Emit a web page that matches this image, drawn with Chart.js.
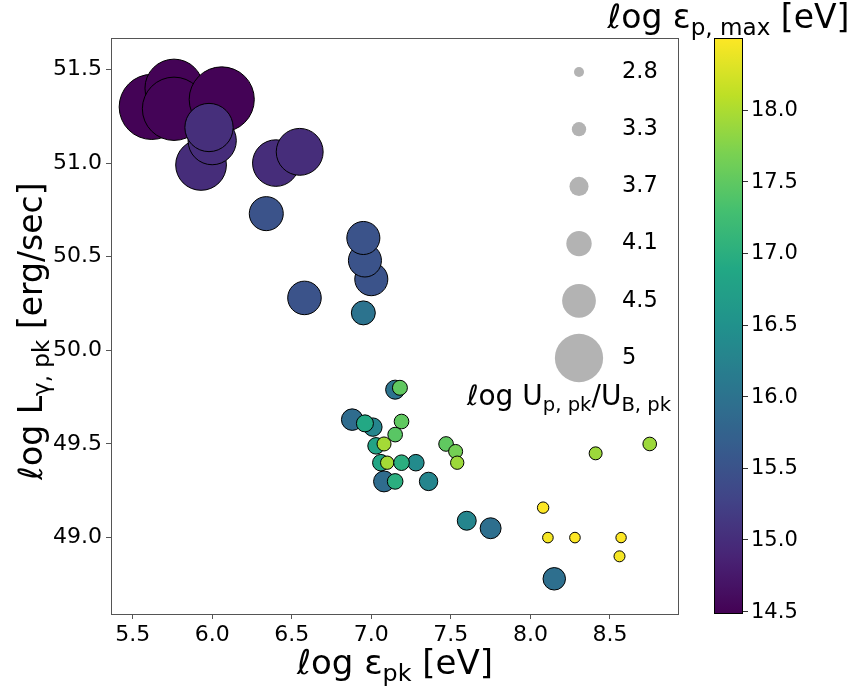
<!DOCTYPE html>
<html>
<head>
<meta charset="utf-8">
<script src="https://cdn.jsdelivr.net/npm/chart.js@4"></script>
<style>
  body { margin: 0; background: #fff; }
  canvas { display: block; }
</style>
</head>
<body>
<canvas id="chart" width="855" height="688"></canvas>
<script>
// ---- data ----
// log eps_pk [eV]
const epk = [5.62, 5.76, 5.76, 6.06, 5.93, 6.00, 5.98, 6.40, 6.55,
             6.34, 7.00, 6.96, 6.95, 6.58, 6.95,
             7.15, 7.18, 6.88, 7.01, 6.96, 7.19, 7.15, 7.03, 7.08,
             7.47, 7.53, 7.54, 7.06, 7.10, 7.28, 7.19, 7.08, 7.15, 7.36,
             8.41, 8.75, 7.60, 7.75, 8.08, 8.11, 8.28, 8.57, 8.56, 8.15];
// log L_gamma,pk [erg/sec]
const lgam = [51.30, 51.40, 51.29, 51.34, 50.99, 51.12, 51.19, 51.00, 51.06,
              50.73, 50.38, 50.48, 50.60, 50.28, 50.20,
              49.79, 49.80, 49.63, 49.59, 49.61, 49.62, 49.55, 49.49, 49.50,
              49.50, 49.46, 49.40, 49.40, 49.40, 49.40, 49.40, 49.30, 49.30, 49.30,
              49.45, 49.50, 49.09, 49.05, 49.16, 49.00, 49.00, 49.00, 48.90, 48.78];
// log U_p,pk / U_B,pk  (marker size)
const logU = [5.42, 5.26, 5.38, 5.42, 5.07, 5.00, 5.00, 4.95, 4.96,
              4.51, 4.47, 4.47, 4.47, 4.49, 4.02,
              3.70, 3.36, 3.87, 3.65, 3.54, 3.33, 3.33, 3.50, 3.27,
              3.33, 3.27, 3.20, 3.50, 3.20, 3.50, 3.42, 3.83, 3.42, 3.65,
              3.16, 3.23, 3.69, 3.83, 2.98, 2.88, 2.88, 2.85, 2.93, 3.93];
// log eps_p,max [eV]  (colour)
const logEmax = [14.50, 14.50, 14.52, 14.50, 15.00, 15.00, 15.02, 15.00, 15.00,
                 15.50, 15.50, 15.50, 15.50, 15.50, 16.00,
                 16.00, 17.50, 15.90, 16.30, 16.90, 17.50, 17.45, 16.80, 17.95,
                 17.50, 17.65, 17.90, 16.85, 17.95, 16.40, 17.00, 15.90, 17.00, 16.30,
                 17.90, 17.90, 16.30, 15.95, 18.50, 18.45, 18.50, 18.50, 18.45, 15.95];

const xTicks = [5.5, 6.0, 6.5, 7.0, 7.5, 8.0, 8.5];
const yTicks = [49.0, 49.5, 50.0, 50.5, 51.0, 51.5];
const sizeLegend = [2.8, 3.3, 3.7, 4.1, 4.5, 5];
const cbTicks = [14.5, 15.0, 15.5, 16.0, 16.5, 17.0, 17.5, 18.0];
const cMin = 14.48, cMax = 18.5;

// ---- helpers ----
const viridisStops = ['#440154', '#482475', '#414487', '#355f8d', '#2a788e', '#21918c',
                      '#22a884', '#44bf70', '#7ad151', '#bddf26', '#fde725'];
function hexRgb(h) {
    return [parseInt(h.slice(1, 3), 16), parseInt(h.slice(3, 5), 16), parseInt(h.slice(5, 7), 16)];
}
function viridis(t) {
    t = Math.max(0, Math.min(1, t));
    const f = t * (viridisStops.length - 1);
    const i = Math.min(Math.floor(f), viridisStops.length - 2);
    const a = hexRgb(viridisStops[i]), b = hexRgb(viridisStops[i + 1]);
    const k = f - i;
    const c = a.map((v, j) => Math.round(v + (b[j] - v) * k));
    return 'rgb(' + c.join(',') + ')';
}
function colorFor(v) { return viridis((v - cMin) / (cMax - cMin)); }
function radiusFor(u) { return 0.68 * Math.pow(10, 0.31 * u); }

const FONT = "'DejaVu Sans', sans-serif";
// draw text with subscripts: parts = [[text, isSub], ...]
function drawRich(ctx, parts, x, y, size, align) {
    const subSize = size * 0.7;
    let total = 0;
    parts.forEach(p => {
        ctx.font = (p[1] ? subSize : size) + 'px ' + FONT;
        total += ctx.measureText(p[0]).width;
    });
    let cx = align === 'center' ? x - total / 2 : x;
    ctx.textAlign = 'left';
    ctx.textBaseline = 'alphabetic';
    parts.forEach(p => {
        ctx.font = (p[1] ? subSize : size) + 'px ' + FONT;
        ctx.fillText(p[0], cx, p[1] ? y + size * 0.2 : y);
        cx += ctx.measureText(p[0]).width;
    });
}

const points = epk.map((x, i) => ({ x: x, y: lgam[i], r: radiusFor(logU[i]) }));

const decorPlugin = {
    id: 'decor',
    afterDatasetsDraw(chart) {
        const ctx = chart.ctx;
        const a = chart.chartArea;
        ctx.save();
        ctx.fillStyle = '#000';

        // frame
        ctx.strokeStyle = '#555';
        ctx.lineWidth = 1;
        ctx.strokeRect(a.left + 0.5, a.top + 0.5, a.right - a.left - 1, a.bottom - a.top);

        // size legend
        const lx = a.left + 468, ly0 = a.top + 34, lstep = 57.2;
        sizeLegend.forEach((u, i) => {
            const y = ly0 + i * lstep;
            ctx.beginPath();
            ctx.arc(lx, y, radiusFor(u), 0, Math.PI * 2);
            ctx.fillStyle = '#b3b3b3';
            ctx.fill();
            ctx.fillStyle = '#000';
            ctx.font = '22.5px ' + FONT;
            ctx.textAlign = 'left';
            ctx.textBaseline = 'middle';
            ctx.fillText(String(u), lx + 43, y);
        });
        drawRich(ctx, [['\u2113og U', false], ['p, pk', true], ['/U', false], ['B, pk', true]],
                 a.left + 458, a.top + 367, 28, 'center');

        // colorbar
        const cbL = a.right + 35, cbR = cbL + 29, cbT = a.top, cbB = a.bottom;
        const grad = ctx.createLinearGradient(0, cbB, 0, cbT);
        for (let k = 0; k <= 40; k++) grad.addColorStop(k / 40, viridis(k / 40));
        ctx.fillStyle = grad;
        ctx.fillRect(cbL, cbT, cbR - cbL, cbB - cbT);
        ctx.strokeStyle = '#000';
        ctx.lineWidth = 1;
        ctx.strokeRect(cbL + 0.5, cbT + 0.5, cbR - cbL - 1, cbB - cbT - 1);
        ctx.fillStyle = '#000';
        ctx.font = '21px ' + FONT;
        ctx.textAlign = 'left';
        ctx.textBaseline = 'middle';
        cbTicks.forEach(v => {
            const y = cbB - (v - cMin) / (cMax - cMin) * (cbB - cbT);
            ctx.strokeStyle = '#333';
            ctx.beginPath();
            ctx.moveTo(cbR, Math.round(y) + 0.5);
            ctx.lineTo(cbR + 5, Math.round(y) + 0.5);
            ctx.stroke();
            ctx.fillText(v.toFixed(1), cbR + 8, y + 1);
        });
        drawRich(ctx, [['\u2113og \u03b5', false], ['p, max', true], [' [eV]', false]],
                 (cbL + cbR) / 2, 28, 33, 'center');

        // axis titles
        drawRich(ctx, [['\u2113og \u03b5', false], ['pk', true], [' [eV]', false]],
                 (a.left + a.right) / 2, 674, 34, 'center');
        ctx.save();
        ctx.translate(42, (a.top + a.bottom) / 2 + 5);
        ctx.rotate(-Math.PI / 2);
        drawRich(ctx, [['\u2113og L', false], ['\u03b3, pk', true], [' [erg/sec]', false]],
                 0, 0, 33, 'center');
        ctx.restore();

        ctx.restore();
    }
};

const tickFont = { family: FONT, size: 22 };

new Chart(document.getElementById('chart').getContext('2d'), {
    type: 'bubble',
    data: {
        datasets: [{
            data: points,
            backgroundColor: logEmax.map(colorFor),
            borderColor: '#000',
            borderWidth: 1,
            hoverRadius: 0
        }]
    },
    options: {
        responsive: false,
        animation: false,
        events: [],
        layout: { padding: { left: 0, top: 38, right: 176, bottom: 0 } },
        scales: {
            x: {
                type: 'linear',
                min: 5.364,
                max: 8.934,
                bounds: 'data',
                afterFit: s => { s.height = 74; },
                afterBuildTicks: s => { s.ticks = xTicks.map(v => ({ value: v })); },
                ticks: { font: tickFont, color: '#000', padding: 3, includeBounds: false,
                         maxRotation: 0, callback: v => Number(v).toFixed(1) },
                grid: { drawOnChartArea: false, tickLength: 5, color: '#555' },
                border: { display: false }
            },
            y: {
                type: 'linear',
                min: 48.592,
                max: 51.668,
                bounds: 'data',
                afterFit: s => { s.width = 111; },
                afterBuildTicks: s => { s.ticks = yTicks.map(v => ({ value: v })); },
                ticks: { font: tickFont, color: '#000', padding: 4, includeBounds: false,
                         callback: v => Number(v).toFixed(1) },
                grid: { drawOnChartArea: false, tickLength: 5, color: '#555' },
                border: { display: false }
            }
        },
        plugins: {
            legend: { display: false },
            tooltip: { enabled: false }
        }
    },
    plugins: [decorPlugin]
});
</script>
</body>
</html>
